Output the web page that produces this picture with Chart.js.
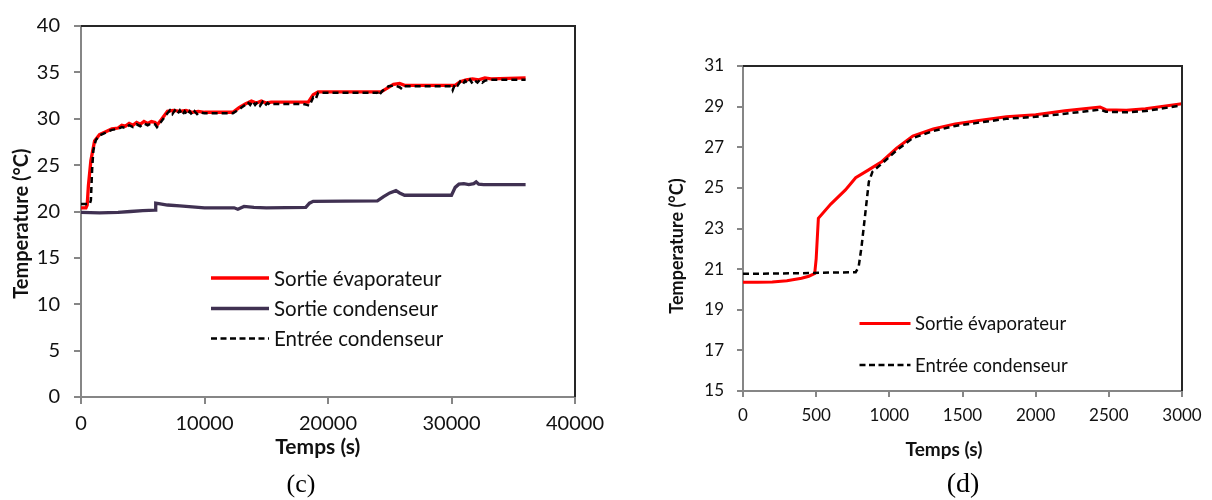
<!DOCTYPE html>
<html><head><meta charset="utf-8">
<script src="https://cdn.jsdelivr.net/npm/chart.js@4.4.1/dist/chart.umd.min.js"></script>
<style>
html,body{margin:0;padding:0;background:#fff;}
body{width:1212px;height:500px;position:relative;overflow:hidden;}
.box{position:absolute;top:0;height:470px;}
#boxC{left:0;width:612px;}
#boxD{left:612px;width:600px;}
.cap{position:absolute;font-family:"Liberation Serif","DejaVu Serif",serif;color:#000;transform:translate(-50%,-50%);line-height:1;white-space:nowrap;}
</style></head><body>
<div class="box" id="boxC"><canvas id="chartC" width="612" height="470"></canvas></div>
<div class="box" id="boxD"><canvas id="chartD" width="600" height="470"></canvas></div>
<div class="cap" style="left:301px;top:484px;font-size:26px">(c)</div>
<div class="cap" style="left:963px;top:483px;font-size:28px">(d)</div>
<script>
// ---------- Chart (c) data ----------
const labelEvap = "Sortie évaporateur";
const labelCondOut = "Sortie condenseur";
const labelCondIn = "Entrée condenseur";

const tEvapC = [0,400,500,600,800,1100,1500,2000,2500,3000,3300,3600,3900,4200,4500,4800,5100,5400,5700,6000,6150,6500,7000,7500,8000,8500,9000,9500,10000,12300,12800,13300,13800,14200,14600,15000,15400,18000,18400,18800,19200,24000,24300,24800,25300,25800,26200,30000,30300,30700,31200,31700,32200,32700,33200,36000];
const evapC = [20.4,20.4,20.7,22.8,25.5,27.6,28.3,28.6,28.9,29.0,29.3,29.2,29.5,29.3,29.6,29.4,29.7,29.5,29.7,29.6,29.3,29.9,30.8,30.9,30.8,30.9,30.7,30.8,30.7,30.7,31.2,31.6,31.9,31.7,31.9,31.7,31.8,31.8,31.8,32.6,32.9,32.9,32.9,33.3,33.7,33.8,33.6,33.6,33.6,34.0,34.2,34.3,34.2,34.4,34.3,34.4,34.45];

const tCondOutC = [0,1500,3000,4000,5000,6000,6050,6300,7000,8000,9000,10000,12400,12700,13200,14000,15000,18200,18500,18800,24000,24500,25000,25500,25800,26200,30000,30300,30600,31000,31400,31800,32000,32200,32600,36000];
const condOutC = [19.9,19.85,19.9,20.0,20.1,20.15,20.9,20.85,20.7,20.6,20.5,20.4,20.4,20.25,20.55,20.45,20.4,20.45,20.9,21.1,21.15,21.6,22.0,22.25,22.0,21.75,21.75,22.6,22.95,23.0,22.9,23.0,23.2,22.95,22.9,22.9];

const tCondInC = [0,700,800,900,1000,1200,1500,2000,2500,3000,3300,3600,3900,4200,4500,4800,5100,5400,5700,6000,6150,6500,7000,7200,7400,7600,7800,8000,8200,8400,8600,8800,9000,9200,9400,9600,10000,12300,12800,13000,13300,13500,13700,13900,14100,14300,14500,14700,14900,15100,15300,15500,18000,18300,18500,18800,19000,19200,24000,24100,24400,24900,25400,25800,26000,26200,30000,30100,30300,30500,30700,30900,31100,31300,31500,31700,31900,32100,32300,32500,32700,33000,36000];
const condInC = [20.8,20.8,21.2,24.5,26.6,27.7,28.2,28.5,28.8,28.9,29.1,29.0,29.3,29.1,29.4,29.2,29.5,29.3,29.5,29.4,29.1,29.7,30.6,30.9,30.5,30.9,30.5,30.9,30.4,30.8,30.4,30.8,30.4,30.8,30.5,30.7,30.6,30.6,31.0,31.2,31.5,31.8,31.5,31.9,31.5,31.8,31.4,31.8,31.4,31.7,31.5,31.6,31.6,31.5,31.4,32.3,32.1,32.8,32.8,32.5,33.0,33.5,33.6,33.4,33.2,33.5,33.5,33.1,33.8,33.6,34.0,33.7,34.1,33.8,34.2,33.8,34.1,33.9,34.2,33.9,34.1,34.2,34.2];

const xTicksC = [0,10000,20000,30000,40000];
const yTicksC = [0,5,10,15,20,25,30,35,40];

// ---------- Chart (d) data ----------
const tEvapD = [0,100,200,300,400,450,490,500,515,600,700,770,850,950,1050,1160,1300,1450,1600,1800,2000,2200,2440,2480,2620,2750,3000];
const evapD = [20.36,20.36,20.37,20.43,20.55,20.65,20.78,21.5,23.5,24.2,24.9,25.5,25.85,26.3,26.95,27.55,27.9,28.15,28.3,28.5,28.6,28.8,28.98,28.85,28.82,28.9,29.14];

const tCondInD = [0,200,400,600,770,790,810,835,860,885,950,1050,1160,1300,1450,1600,1800,2000,2200,2440,2480,2620,2750,3000];
const condInD = [20.77,20.78,20.8,20.83,20.85,21.1,22.1,23.7,25.3,25.8,26.2,26.85,27.45,27.8,28.05,28.2,28.4,28.5,28.65,28.85,28.75,28.72,28.78,29.06];

const xTicksD = [0,500,1000,1500,2000,2500,3000];
const yTicksD = [15,17,19,21,23,25,27,29,31];

const xTitle = "Temps (s)";
const yTitle = "Temperature (°C)";

// ---------- helpers ----------
const pts = (xs, ys) => xs.map((x, i) => ({x, y: ys[i]}));
const FONT = "Lato, 'Open Sans', 'Liberation Sans', sans-serif";
const AXIS_GREY = '#868686';

const framePlugin = {
  id: 'frame',
  afterDraw(chart) {
    const {ctx, chartArea: a} = chart;
    ctx.save();
    ctx.strokeStyle = '#262626';
    ctx.lineWidth = 2;
    ctx.beginPath();
    ctx.moveTo(a.left, a.top);
    ctx.lineTo(a.right, a.top);
    ctx.lineTo(a.right, a.bottom);
    ctx.stroke();
    ctx.restore();
  }
};

const insideLegend = {
  id: 'insideLegend',
  afterDraw(chart, args, o) {
    if (!o || !o.ys) return;
    const ctx = chart.ctx;
    ctx.save();
    chart.data.datasets.forEach((ds, i) => {
      const y = o.ys[i];
      ctx.beginPath();
      ctx.strokeStyle = ds.borderColor;
      ctx.lineWidth = ds.legendWidth || ds.borderWidth;
      ctx.setLineDash(ds.legendDash || ds.borderDash || []);
      ctx.moveTo(o.x0, y);
      ctx.lineTo(o.x1, y);
      ctx.stroke();
      ctx.setLineDash([]);
      ctx.fillStyle = '#111';
      ctx.font = o.font;
      ctx.textBaseline = 'middle';
      ctx.textAlign = 'left';
      ctx.fillText(ds.label, o.xText, y + 1);
    });
    ctx.restore();
  }
};

function axes(cfg) {
  return {
    x: {
      type: 'linear', min: cfg.xTicks[0], max: cfg.xTicks[cfg.xTicks.length - 1],
      afterBuildTicks: s => { s.ticks = cfg.xTicks.map(v => ({value: v})); },
      afterFit: s => { s.height = cfg.xHeight; },
      border: {display: true, color: AXIS_GREY, width: 2},
      grid: {drawOnChartArea: false, drawTicks: true, tickLength: cfg.tick, color: AXIS_GREY, lineWidth: 2},
      ticks: {color: '#111', font: {family: FONT, size: cfg.tickSize}, padding: cfg.xPad, maxRotation: 0, autoSkip: false,
              callback: v => String(v)},
      title: {display: true, text: cfg.xTitle, color: '#111',
              font: {family: FONT, size: cfg.titleSize, weight: 'bold'}, padding: {top: 0, bottom: cfg.xTitlePad}}
    },
    y: {
      type: 'linear', min: cfg.yTicks[0], max: cfg.yTicks[cfg.yTicks.length - 1],
      afterBuildTicks: s => { s.ticks = cfg.yTicks.map(v => ({value: v})); },
      afterFit: s => { s.width = cfg.yWidth; },
      border: {display: true, color: AXIS_GREY, width: 2},
      grid: {drawOnChartArea: false, drawTicks: true, tickLength: cfg.tick, color: AXIS_GREY, lineWidth: 2},
      ticks: {color: '#111', font: {family: FONT, size: cfg.tickSize}, padding: cfg.yPad,
              callback: v => String(v)},
      title: {display: true, text: cfg.yTitle, color: '#111',
              font: {family: FONT, size: cfg.yTitleSize || cfg.titleSize, weight: 'bold'}, padding: {top: cfg.yTitlePad, bottom: 0}}
    }
  };
}

Chart.defaults.font.family = FONT;

new Chart(document.getElementById('chartC'), {
  type: 'line',
  data: {
    datasets: [
      {label: labelEvap, data: pts(tEvapC, evapC), borderColor: '#ff0000', borderWidth: 3.3, order: 2},
      {label: labelCondOut, data: pts(tCondOutC, condOutC), borderColor: '#403152', borderWidth: 3.3, order: 1},
      {label: labelCondIn, data: pts(tCondInC, condInC), borderColor: '#000000', borderWidth: 2.5, borderDash: [6, 4], legendDash: [6, 3.5], order: 0}
    ]
  },
  options: {
    responsive: false, animation: false,
    layout: {padding: {left: 0, top: 18, right: 22, bottom: 0}},
    elements: {point: {radius: 0}, line: {tension: 0}},
    plugins: {
      legend: {display: false}, tooltip: {enabled: false},
      insideLegend: {x0: 211, x1: 269, xText: 274, ys: [278, 308.5, 338.5], font: "20.5px " + FONT}
    },
    scales: axes({xTicks: xTicksC, yTicks: yTicksC, xHeight: 73, yWidth: 81, tick: 7, tickSize: 20,
                  xPad: 8, yPad: 14, titleSize: 21, yTitleSize: 20, xTitlePad: 10, yTitlePad: 10,
                  xTitle: xTitle + "    ", yTitle: yTitle + "     "})
  },
  plugins: [framePlugin, insideLegend]
});

new Chart(document.getElementById('chartD'), {
  type: 'line',
  data: {
    datasets: [
      {label: labelEvap, data: pts(tEvapD, evapD), borderColor: '#ff0000', borderWidth: 3, order: 1},
      {label: labelCondIn, data: pts(tCondInD, condInD), borderColor: '#000000', borderWidth: 2.5, borderDash: [6, 4], legendDash: [6, 3.5], order: 0}
    ]
  },
  options: {
    responsive: false, animation: false,
    layout: {padding: {left: 0, top: 66, right: 30, bottom: 0}},
    elements: {point: {radius: 0}, line: {tension: 0}},
    plugins: {
      legend: {display: false}, tooltip: {enabled: false},
      insideLegend: {x0: 247.5, x1: 298.5, xText: 303, ys: [323.5, 365], font: "18.5px " + FONT}
    },
    scales: axes({xTicks: xTicksD, yTicks: yTicksD, xHeight: 79, yWidth: 131, tick: 6, tickSize: 17,
                  xPad: 8, yPad: 13, titleSize: 19, yTitleSize: 18, xTitlePad: 9, yTitlePad: 54,
                  xTitle: xTitle + "        ", yTitle: yTitle + "        "})
  },
  plugins: [framePlugin, insideLegend]
});
</script>
</body></html>
